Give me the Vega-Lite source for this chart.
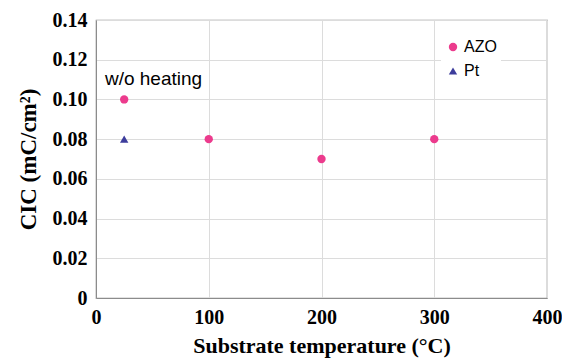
{
  "$schema": "https://vega.github.io/schema/vega-lite/v6.json",
  "width": 451,
  "height": 278,
  "autosize": {"type": "none"},
  "padding": {"left": 96, "top": 20, "right": 15, "bottom": 62},
  "background": "white",
  "config": {
    "view": {"stroke": "#8c8c8c", "strokeWidth": 1.2},
    "axis": {
      "labelFont": "Liberation Serif",
      "labelFontWeight": "bold",
      "labelFontSize": 20,
      "labelColor": "#000",
      "labelOverlap": false,
      "labelFlush": false,
      "titleFont": "Liberation Serif",
      "titleFontWeight": "bold",
      "titleFontSize": 23,
      "titleColor": "#000",
      "gridColor": "#dcdcdc",
      "domainColor": "#8c8c8c",
      "ticks": false
    }
  },
  "data": {
    "values": [
      {"temperature": 25, "cic": 0.10, "series": "AZO"},
      {"temperature": 100, "cic": 0.08, "series": "AZO"},
      {"temperature": 200, "cic": 0.07, "series": "AZO"},
      {"temperature": 300, "cic": 0.08, "series": "AZO"},
      {"temperature": 25, "cic": 0.08, "series": "Pt"}
    ]
  },
  "encoding": {
    "x": {
      "field": "temperature", "type": "quantitative",
      "scale": {"domain": [0, 400], "nice": false},
      "axis": {"values": [0, 100, 200, 300, 400], "title": "Substrate temperature (°C)", "titleFontSize": 22, "labelPadding": 9, "titlePadding": 8}
    },
    "y": {
      "field": "cic", "type": "quantitative",
      "scale": {"domain": [0, 0.14], "nice": false},
      "axis": {"values": [0, 0.02, 0.04, 0.06, 0.08, 0.1, 0.12, 0.14], "labelExpr": "datum.value == 0 ? '0' : format(datum.value, '.2f')", "title": "CIC (mC/cm²)", "labelPadding": 9, "titlePadding": 12}
    }
  },
  "layer": [
    {
      "mark": {"type": "point", "filled": true, "opacity": 1},
      "encoding": {
        "color": {
          "field": "series", "type": "nominal",
          "scale": {"domain": ["AZO", "Pt"], "range": ["#ec3b8d", "#3d3d9c"]},
          "legend": {
            "title": null, "orient": "none", "legendX": 345, "legendY": 15,
            "fillColor": "white", "padding": 4,
            "labelFont": "Liberation Sans", "labelFontSize": 16, "labelColor": "#000",
            "symbolSize": 70, "rowPadding": 8, "labelOffset": 3
          }
        },
        "shape": {
          "field": "series", "type": "nominal",
          "scale": {"domain": ["AZO", "Pt"], "range": ["circle", "triangle-up"]}
        },
        "size": {"value": 70}
      }
    },
    {
      "data": {"values": [{"temperature": 51, "cic": 0.1105, "label": "w/o heating"}]},
      "mark": {"type": "text", "font": "Liberation Sans", "fontSize": 19, "align": "center", "baseline": "middle", "color": "#000"},
      "encoding": {
        "text": {"field": "label"}
      }
    }
  ]
}
